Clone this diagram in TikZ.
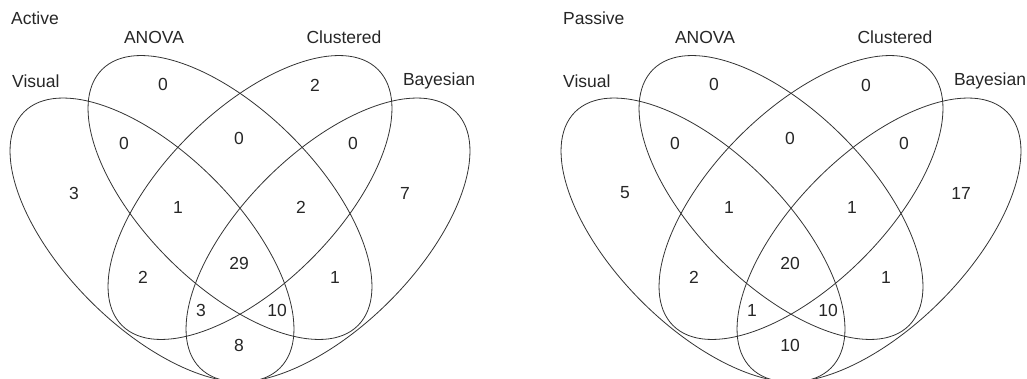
\documentclass[tikz,border=0pt]{standalone}
\usepackage{fontspec}
\setmainfont{Liberation Sans}
\tikzset{
  set/.style={draw=black!80, line width=0.8pt},
  setname/.style={font=\fontsize{17.5}{21}\selectfont, text=black!85, inner sep=0pt, anchor=base},
  count/.style={font=\fontsize{17.5}{21}\selectfont, text=black!85, inner sep=0pt}
}
\begin{document}
\begin{tikzpicture}[x=1pt,y=1pt]
\useasboundingbox (0,0) rectangle (1027,378);
\clip (0,0) rectangle (1027,378);
% active
\begin{scope}
\draw[set, rotate around={-45:(152,138)}] (152,138) ellipse [x radius=181, y radius=86.8];
\draw[set, rotate around={-45:(230,180.5)}] (230,180.5) ellipse [x radius=181, y radius=86.8];
\draw[set, rotate around={45:(250,180.5)}] (250,180.5) ellipse [x radius=181, y radius=86.8];
\draw[set, rotate around={45:(328,138)}] (328,138) ellipse [x radius=181, y radius=86.8];
\node[setname, anchor=base west] (act) at (11,353) {Active};
\node[setname] (act-a) at (154,334) {ANOVA};
\node[setname] (act-c) at (344,334) {Clustered};
\node[setname, anchor=base west] (act-v) at (12,290) {Visual};
\node[setname] (act-b) at (439,292) {Bayesian};
\node[count] (act-n1) at (163,294) {0};
\node[count] (act-n2) at (315,293) {2};
\node[count] (act-n3) at (124,235) {0};
\node[count] (act-n4) at (239,240) {0};
\node[count] (act-n5) at (353,235) {0};
\node[count] (act-n6) at (74,185) {3};
\node[count] (act-n7) at (178,171) {1};
\node[count] (act-n8) at (301,171) {2};
\node[count] (act-n9) at (405,185) {7};
\node[count] (act-n10) at (239,115) {29};
\node[count] (act-n11) at (143,101) {2};
\node[count] (act-n12) at (335,101) {1};
\node[count] (act-n13) at (201,68) {3};
\node[count] (act-n14) at (277,68) {10};
\node[count] (act-n15) at (239,33) {8};
\end{scope}
% passive
\begin{scope}[xshift=551pt]
\draw[set, rotate around={-45:(152,138)}] (152,138) ellipse [x radius=181, y radius=86.8];
\draw[set, rotate around={-45:(230,180.5)}] (230,180.5) ellipse [x radius=181, y radius=86.8];
\draw[set, rotate around={45:(250,180.5)}] (250,180.5) ellipse [x radius=181, y radius=86.8];
\draw[set, rotate around={45:(328,138)}] (328,138) ellipse [x radius=181, y radius=86.8];
\node[setname, anchor=base west] (pas) at (12,353) {Passive};
\node[setname] (pas-a) at (154,334) {ANOVA};
\node[setname] (pas-c) at (344,334) {Clustered};
\node[setname, anchor=base west] (pas-v) at (12,290) {Visual};
\node[setname] (pas-b) at (439,292) {Bayesian};
\node[count] (pas-n1) at (163,294) {0};
\node[count] (pas-n2) at (315,293) {0};
\node[count] (pas-n3) at (124,235) {0};
\node[count] (pas-n4) at (239,240) {0};
\node[count] (pas-n5) at (353,235) {0};
\node[count] (pas-n6) at (74,185) {5};
\node[count] (pas-n7) at (178,171) {1};
\node[count] (pas-n8) at (301,171) {1};
\node[count] (pas-n9) at (410,185) {17};
\node[count] (pas-n10) at (239,115) {20};
\node[count] (pas-n11) at (143,101) {2};
\node[count] (pas-n12) at (335,101) {1};
\node[count] (pas-n13) at (201,68) {1};
\node[count] (pas-n14) at (277,68) {10};
\node[count] (pas-n15) at (239,33) {10};
\end{scope}
\end{tikzpicture}
\end{document}
